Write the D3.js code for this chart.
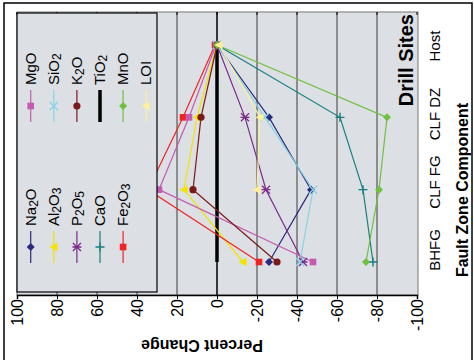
<!DOCTYPE html>
<html>
<head>
<meta charset="utf-8">
<script src="https://cdn.jsdelivr.net/npm/d3@7"></script>
<style>
  body { margin: 0; background: #fff; }
  svg { display: block; font-family: Arial, "Liberation Sans", sans-serif; }
</style>
</head>
<body>
<svg id="chart" width="474" height="360"></svg>
<script>
// Fault zone components (top to bottom) and percent change per oxide
const categories = ["Host", "CLF DZ", "CLF FG", "BHFG"];
const tickValues = [100, 80, 60, 40, 20, 0, -20, -40, -60, -80, -100];

const na2o  = [0, -26, -47, -26];
const al2o3 = [0, 10, 16.5, -13];
const p2o5  = [0, -14, -24.5, -43];
const cao   = [0, -61.5, -73, -78];
const fe2o3 = [1, 17, 34.5, -21];
const mgo   = [0.5, 14, 29, -48];
const sio2  = [0, -24, -48, -41.5];
const k2o   = [0, 8, 12, -30];
const tio2  = [0, 0, 0, 0];
const mno   = [0, -85, -81, -74.5];
const loi   = [-1, -21.5, -20, null];

const seriesNames = ["Na2O", "Al2O3", "P2O5", "CaO", "Fe2O3", "MgO", "SiO2", "K2O", "TiO2", "MnO", "LOI"];
const seriesValues = [na2o, al2o3, p2o5, cao, fe2o3, mgo, sio2, k2o, tio2, mno, loi];

// per-series look
const styles = {
  Na2O:  { color: "#2a2a80", marker: "diamond" },
  Al2O3: { color: "#f2e400", marker: "triangle" },
  P2O5:  { color: "#7d2a8c", marker: "star" },
  CaO:   { color: "#168080", marker: "plus" },
  Fe2O3: { color: "#f02424", marker: "square" },
  MgO:   { color: "#c55bb0", marker: "square" },
  SiO2:  { color: "#86d4e4", marker: "cross" },
  K2O:   { color: "#7a1a1a", marker: "circle" },
  TiO2:  { color: "#000000", marker: "none", width: 3.5 },
  MnO:   { color: "#70c040", marker: "diamond" },
  LOI:   { color: "#fff09a", marker: "triangle" }
};

const series = seriesNames.map((name, i) => ({ name, values: seriesValues[i], ...styles[name] }));

const svg = d3.select("#chart");
const plot = { left: 17, right: 418, top: 12, bottom: 295 };
const x = d3.scaleLinear().domain([100, -100]).range([17, 417]);
const y = d3.scalePoint().domain(categories).range([45, 262]);
const labelY = d3.scalePoint().domain(categories).range([46, 250]);
const plotFill = "#dcdfe3";

// outer frame
svg.append("rect")
  .attr("x", 4).attr("y", 3).attr("width", 468).attr("height", 380)
  .attr("fill", "none").attr("stroke", "#000").attr("stroke-width", 1.5);

// plot area
svg.append("rect")
  .attr("x", plot.left).attr("y", plot.top)
  .attr("width", plot.right - plot.left).attr("height", plot.bottom - plot.top)
  .attr("fill", plotFill).attr("stroke", "#777").attr("stroke-width", 1);

// vertical gridlines
svg.append("g").selectAll("line")
  .data(tickValues.filter(d => d !== 100 && d !== -100))
  .join("line")
  .attr("x1", d => x(d)).attr("x2", d => x(d))
  .attr("y1", plot.top).attr("y2", plot.bottom)
  .attr("stroke", d => d === 0 ? "#000" : "#3a3a3a")
  .attr("stroke-width", d => d === 0 ? 1.5 : 1);

// mirrored inner ticks along the top edge
svg.append("g").selectAll("line")
  .data(tickValues)
  .join("line")
  .attr("x1", d => x(d)).attr("x2", d => x(d))
  .attr("y1", plot.top).attr("y2", plot.top + 3)
  .attr("stroke", "#000");

// value axis along the bottom, labels turned to read upward
const axis = d3.axisBottom(x).tickValues(tickValues).tickSize(4).tickFormat(d => String(d));
const gAxis = svg.append("g").attr("transform", `translate(0,${plot.bottom})`).call(axis);
gAxis.select(".domain").attr("stroke", "#000").attr("stroke-width", 1.5);
gAxis.selectAll(".tick line").attr("stroke", "#000");
gAxis.selectAll(".tick text")
  .attr("transform", "rotate(-90)")
  .attr("x", -4).attr("y", 0).attr("dy", "0.35em")
  .attr("text-anchor", "end")
  .attr("fill", "#000")
  .style("font-size", "16px")
  .style("font-family", "Arial, 'Liberation Sans', sans-serif");

// value axis title (upside down)
svg.append("text")
  .attr("transform", "translate(202,340) rotate(180)")
  .attr("text-anchor", "middle")
  .style("font-size", "16px").style("font-weight", "bold")
  .text("Percent Change");

// category labels on the right
svg.append("g").selectAll("text")
  .data(categories)
  .join("text")
  .attr("transform", d => `translate(440,${labelY(d)}) rotate(-90)`)
  .attr("text-anchor", "middle")
  .style("font-size", "15px")
  .text(d => d);

svg.append("text")
  .attr("transform", "translate(468,190) rotate(-90)")
  .attr("text-anchor", "middle")
  .style("font-size", "16px").style("font-weight", "bold")
  .text("Fault Zone Component");

// chart title
svg.append("text")
  .attr("transform", "translate(413,14) rotate(-90)")
  .attr("text-anchor", "end")
  .style("font-size", "20px").style("font-weight", "bold")
  .text("Drill Sites");

// marker shapes
function drawMarker(g, type, color, cx, cy) {
  const m = g.append("g").attr("transform", `translate(${cx},${cy})`);
  switch (type) {
    case "square":
      m.append("rect").attr("x", -3.3).attr("y", -3.3).attr("width", 6.6).attr("height", 6.6).attr("fill", color);
      break;
    case "diamond":
      m.append("path").attr("d", "M0,-4L4,0L0,4L-4,0Z").attr("fill", color);
      break;
    case "circle":
      m.append("circle").attr("r", 3.6).attr("fill", color);
      break;
    case "triangle":
      m.append("path").attr("d", "M-4.5,0L3.5,-4.2L3.5,4.2Z").attr("fill", color);
      break;
    case "cross":
      m.append("path").attr("d", "M-4,-4L4,4M-4,4L4,-4").attr("stroke", color).attr("stroke-width", 1.4);
      break;
    case "plus":
      m.append("path").attr("d", "M-4.5,0L4.5,0M0,-4.5L0,4.5").attr("stroke", color).attr("stroke-width", 1.4);
      break;
    case "star":
      m.append("path").attr("d", "M-4,-4L4,4M-4,4L4,-4M-4.5,0L4.5,0").attr("stroke", color).attr("stroke-width", 1.3);
      break;
  }
}

// series lines then markers
const line = d3.line()
  .defined(d => d.v !== null)
  .x(d => x(d.v))
  .y(d => y(d.c));

const gSeries = svg.append("g");
const ordered = [series.find(s => s.name === "TiO2"), ...series.filter(s => s.name !== "TiO2")];
ordered.forEach(s => {
  const pts = s.values.map((v, i) => ({ v, c: categories[i] }));
  gSeries.append("path")
    .datum(pts)
    .attr("d", line)
    .attr("fill", "none")
    .attr("stroke", s.color)
    .attr("stroke-width", s.width || 1.2);
});
ordered.forEach(s => {
  s.values.forEach((v, i) => {
    if (v !== null && s.marker !== "none") drawMarker(gSeries, s.marker, s.color, x(v), y(categories[i]));
  });
});

// legend box
const legend = svg.append("g");
legend.append("rect")
  .attr("x", 17).attr("y", 13).attr("width", 140).attr("height", 279)
  .attr("fill", plotFill).attr("stroke", "#000").attr("stroke-width", 1.2);

// chemical formula with small, slightly lowered digits
function addLabel(sel, name) {
  name.split(/(\d+)/).filter(p => p.length).forEach(p => {
    const t = sel.append("tspan").text(p);
    if (/^\d+$/.test(p)) t.attr("baseline-shift", "-1.5").style("font-size", "12px");
  });
}

series.forEach((s, i) => {
  const row = i < 5 ? 1 : 0;
  const col = i < 5 ? i : i - 5;
  const lx = 30.7 + col * 23.1;
  const mid = row === 1 ? 247 : 106;
  legend.append("line")
    .attr("x1", lx).attr("x2", lx)
    .attr("y1", mid - 16).attr("y2", mid + 16)
    .attr("stroke", s.color).attr("stroke-width", s.width || 1.2);
  if (s.marker !== "none") drawMarker(legend, s.marker, s.color, lx, mid);
  const t = legend.append("text")
    .attr("transform", `translate(${lx},${mid - 21}) rotate(-90)`)
    .attr("dy", "0.35em")
    .style("font-size", "15px");
  addLabel(t, s.name);
});
</script>
</body>
</html>
